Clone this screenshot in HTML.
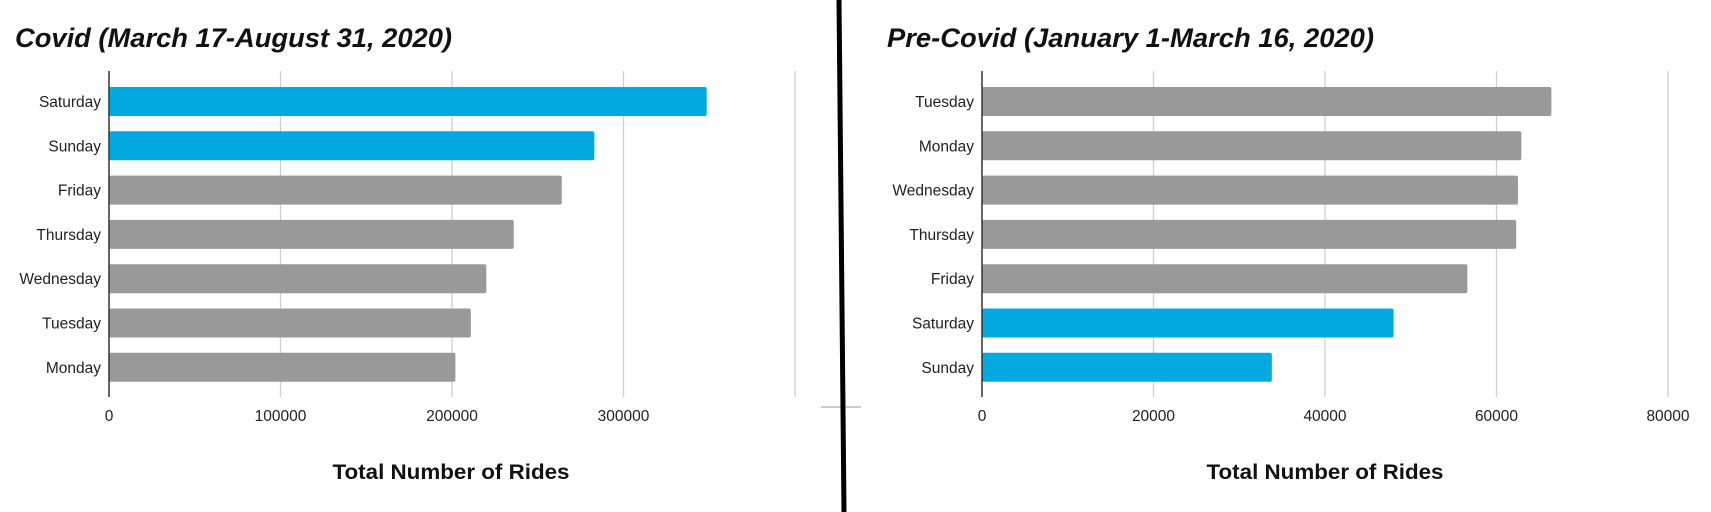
<!DOCTYPE html>
<html><head><meta charset="utf-8"><style>
body{margin:0;background:#fff;}
svg{display:block;font-family:"Liberation Sans",Arial,sans-serif;}
</style></head><body>
<svg id="s" width="1711" height="512"></svg>
<script>
const leftCats=["Saturday","Sunday","Friday","Thursday","Wednesday","Tuesday","Monday"];
const leftVals=[348500,283000,264000,236000,220000,211000,202000];
const leftHighlight=[true,true,false,false,false,false,false];
const leftTicks=[0,100000,200000,300000];
const rightCats=["Tuesday","Monday","Wednesday","Thursday","Friday","Saturday","Sunday"];
const rightVals=[66400,62900,62500,62300,56600,48000,33800];
const rightHighlight=[false,false,false,false,false,true,true];
const rightTicks=[0,20000,40000,60000,80000];
const NS="http://www.w3.org/2000/svg";
const svg=document.getElementById('s');
function mk(t,a,p){const e=document.createElementNS(NS,t);for(const k in a)e.setAttribute(k,a[k]);(p||svg).appendChild(e);return e;}
function chart(o){
  const g=mk('g',{});
  
  
  const x=v=>o.x0+(v/o.max)*(o.x1-o.x0);
  const top=71,bot=397,step=44.3,bh=29,first=87;
  o.grid.forEach(v=>{const l=mk('line',{x1:x(v),x2:x(v),y1:top,y2:bot,stroke:'#d0d0d0','stroke-width':1.3},g);
    });
  o.cats.forEach((c,i)=>{
    const y=first+i*step;
    const r=mk('rect',{x:o.x0,y:y,width:x(o.vals[i])-o.x0,height:bh,rx:2,fill:o.hi[i]?'#00a9e0':'#999999'},g);
    
    const t=mk('text',{x:o.x0-8,y:y+bh/2+5.5,'text-anchor':'end','font-size':15.5,fill:'#222'},g);
    t.textContent=c;
  });
  const ax=mk('line',{x1:o.x0,x2:o.x0,y1:top,y2:bot,stroke:'#333','stroke-width':1.5},g);
  
  o.ticks.forEach(v=>{const t=mk('text',{x:x(v),y:421,'text-anchor':'middle','font-size':15.5,fill:'#222'},g);
    t.textContent=v;});
  const at=mk('text',{x:o.tx,y:479,'text-anchor':'middle','font-size':21,'font-weight':'bold',fill:'#111',textLength:237,lengthAdjust:'spacingAndGlyphs'},g);
  at.textContent='Total Number of Rides';
  const ti=mk('text',{x:o.titleX,y:47,'font-size':27,'font-weight':'bold','font-style':'italic',fill:'#111',textLength:o.titleW,lengthAdjust:'spacingAndGlyphs'},g);
  ti.textContent=o.title;
}
chart({name:'covid-chart',cats:leftCats,vals:leftVals,hi:leftHighlight,ticks:leftTicks,grid:[100000,200000,300000,400000],x0:109,x1:795,max:400000,tx:451,titleX:15,titleW:437,title:'Covid (March 17-August 31, 2020)'});
chart({name:'pre-covid-chart',cats:rightCats,vals:rightVals,hi:rightHighlight,ticks:rightTicks,grid:[20000,40000,60000,80000],x0:982,x1:1668,max:80000,tx:1325,titleX:887,titleW:487,title:'Pre-Covid (January 1-March 16, 2020)'});
const gl=mk('line',{x1:821,x2:861,y1:407,y2:407,stroke:'#ccc','stroke-width':2});

const dv=mk('line',{x1:839,x2:844,y1:0,y2:512,stroke:'#000','stroke-width':5});

</script>
</body></html>
